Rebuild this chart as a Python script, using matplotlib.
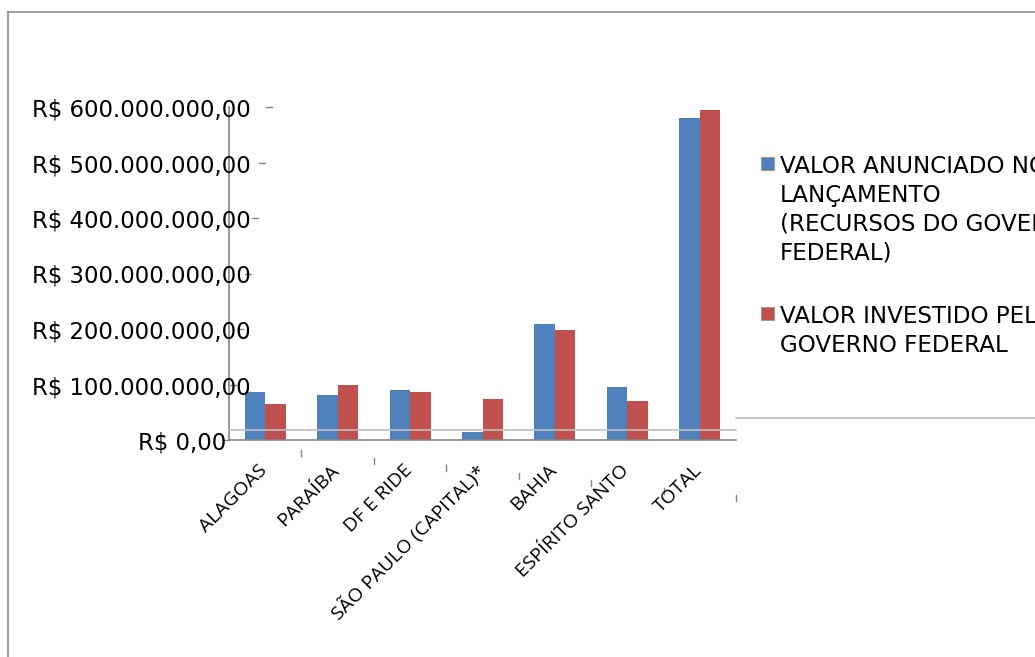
import matplotlib.pyplot as plt
from matplotlib.lines import Line2D
from matplotlib.patches import Rectangle
import matplotlib.transforms as mtransforms
import numpy as np

# dados (valores em R$)
categorias = ['ALAGOAS', 'PARAÍBA', 'DF E RIDE', 'SÃO PAULO (CAPITAL)*',
              'BAHIA', 'ESPÍRITO SANTO', 'TOTAL']
valor_anunciado = [86e6, 81e6, 90e6, 15e6, 209e6, 95e6, 580e6]
valor_investido = [64e6, 100e6, 86e6, 73e6, 199e6, 70e6, 595e6]
serie_nomes = ['VALOR ANUNCIADO NO\nLANÇAMENTO\n(RECURSOS DO GOVERNO\nFEDERAL)',
               'VALOR INVESTIDO PELO\nGOVERNO FEDERAL']
y_ticks = [0, 100e6, 200e6, 300e6, 400e6, 500e6, 600e6]
y_labels = ['R$ 0,00', 'R$ 100.000.000,00', 'R$ 200.000.000,00', 'R$ 300.000.000,00',
            'R$ 400.000.000,00', 'R$ 500.000.000,00', 'R$ 600.000.000,00']

azul = '#4F81BD'
vermelho = '#C0504D'
cinza = '#868686'

W, H = 1035, 657
def fx(x):
    return x / W
def fy(y):
    return 1 - y / H

fig = plt.figure(figsize=(W / 100, H / 100), dpi=100)

# borda do gráfico
fig.add_artist(Line2D([fx(8), fx(8)], [fy(12), fy(700)], color='#8c8c8c', lw=1.2))
fig.add_artist(Line2D([fx(8), fx(1100)], [fy(12), fy(12)], color='#8c8c8c', lw=1.2))

ax = fig.add_axes([fx(229), fy(440), 507 / W, 333 / H])
x = np.arange(len(categorias))
largura = 0.283
ax.bar(x - largura / 2, valor_anunciado, largura, color=azul, edgecolor='none')
ax.bar(x + largura / 2, valor_investido, largura, color=vermelho, edgecolor='none')

ax.set_xlim(-0.5, len(categorias) - 0.5)
ax.set_ylim(0, 600e6)
for s in ['top', 'right']:
    ax.spines[s].set_visible(False)
for s in ['left', 'bottom']:
    ax.spines[s].set_color(cinza)
    ax.spines[s].set_linewidth(1.2)
ax.set_xticks([])
ax.set_yticks([])

# marcas do eixo y (deslocadas como no original)
trans_y = mtransforms.blended_transform_factory(ax.transAxes, ax.transData)
trans_lbl = mtransforms.offset_copy(trans_y, fig=fig, y=-3, units='dots')
for k, v in enumerate(y_ticks):
    x0 = (223 + 7.2 * k - 229) / 507
    ax.add_line(Line2D([x0, x0 + 6 / 507], [v, v], transform=trans_y,
                       color=cinza, lw=1, clip_on=False))
    if v == 0:
        ax.text(-3 / 507, v, y_labels[k], transform=trans_lbl, ha='right',
                va='center', fontsize=16.4, color='black')
    else:
        ax.text((32 - 229) / 507, v, y_labels[k], transform=trans_lbl, ha='left',
                va='center', fontsize=16.4, color='black')

# marcas do eixo x
trans_x = ax.get_xaxis_transform()
for k in range(len(categorias)):
    yt = -(450 + 7.5 * k - 440) / 333
    ax.add_line(Line2D([k + 0.5, k + 0.5], [yt, yt - 6 / 333], transform=trans_x,
                       color=cinza, lw=1, clip_on=False))

for i, nome in enumerate(categorias):
    ax.text(i - 0.1, -21 / 333, nome, transform=trans_x, rotation=45,
            rotation_mode='anchor', ha='right', va='top', fontsize=14,
            family='Open Sans', color='black')

# linhas cinza claras
fig.add_artist(Line2D([fx(229), fx(736)], [fy(430), fy(430)], color='#bfbfbf', lw=1.2))
fig.add_artist(Line2D([fx(736), fx(1040)], [fy(418), fy(418)], color='#bfbfbf', lw=1.2))

# legenda
for cor, nome, yp in [(azul, serie_nomes[0], 157), (vermelho, serie_nomes[1], 307)]:
    fig.add_artist(Rectangle((fx(761), fy(yp + 13)), 13 / W, 13 / H, facecolor=cor,
                             edgecolor='#9a9a9a', lw=0.8))
    fig.text(fx(780), fy(yp - 2), nome, ha='left', va='top', fontsize=16.6,
             linespacing=1.32, color='black')

fig.savefig('out.png', dpi=100)
